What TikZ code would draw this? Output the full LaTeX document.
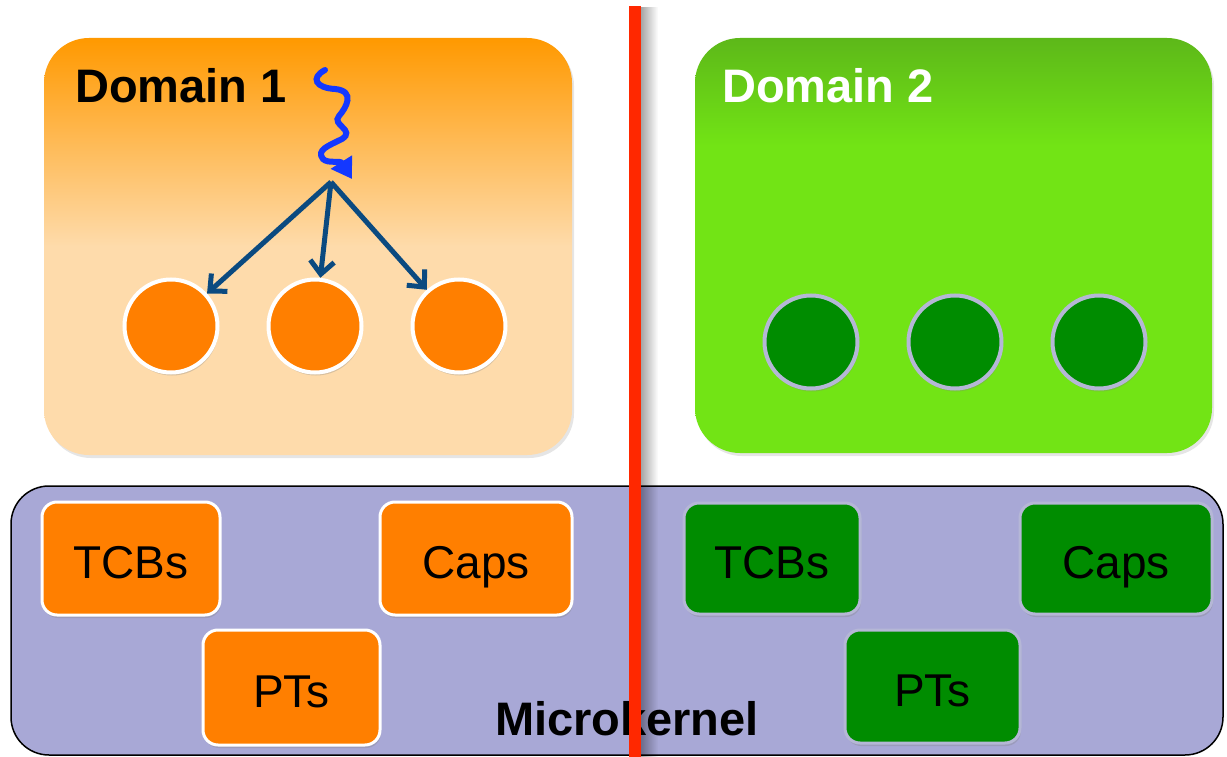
\documentclass[tikz,border=0pt]{standalone}
\usepackage{fontspec}
\setmainfont{Liberation Sans}
\usetikzlibrary{arrows.meta,shadows,fadings}
\definecolor{dorange}{HTML}{FF9900}
\definecolor{dpeach}{HTML}{FEDBAB}
\definecolor{dgreentop}{HTML}{5DB819}
\definecolor{dgreen}{HTML}{72E415}
\definecolor{korange}{HTML}{FF7F00}
\definecolor{kgreen}{HTML}{008C00}
\definecolor{kborder}{HTML}{B5B7D6}
\definecolor{mkfill}{HTML}{A8A8D6}
\definecolor{redline}{HTML}{FF2800}
\definecolor{arrowblue}{HTML}{0B4A80}
\definecolor{squigblue}{HTML}{1438FF}
\pgfdeclareverticalshading{domone}{100bp}{color(0bp)=(dpeach); color(50bp)=(dpeach); color(75bp)=(dorange); color(100bp)=(dorange)}
\pgfdeclareverticalshading{domtwo}{100bp}{color(0bp)=(dgreen); color(62bp)=(dgreen); color(75bp)=(dgreentop); color(100bp)=(dgreentop)}
\begin{document}
\begin{tikzpicture}[x=1pt,y=-1pt,
  domainbox/.style={rectangle, rounded corners=45pt, inner sep=0pt, draw=none,
    drop shadow={shadow xshift=2pt, shadow yshift=-3pt, opacity=0.2}},
  kbox/.style={rectangle, rounded corners=15pt, inner sep=0pt, line width=3pt,
    font=\fontsize{46}{50}\selectfont, text height=39pt, text depth=0pt,
    drop shadow={shadow xshift=1pt, shadow yshift=-3pt, opacity=0.3}},
  obox/.style={kbox, fill=korange, draw=white},
  gbox/.style={kbox, fill=kgreen, draw=kborder},
  thread/.style={circle, minimum size=93pt, inner sep=0pt, line width=4pt,
    drop shadow={shadow xshift=1pt, shadow yshift=-3pt, opacity=0.3}},
  othread/.style={thread, fill=korange, draw=white},
  gthread/.style={thread, fill=kgreen, draw=kborder},
  title/.style={font=\fontsize{47}{50}\selectfont\bfseries, inner sep=0pt},
  fan/.style={draw=arrowblue, line width=5pt, -{Straight Barb[length=13pt,width=24pt,line width=5pt]}},
  squig/.style={draw=squigblue, line width=6pt, line cap=round, -{Triangle[length=20pt,width=24pt]}},
  sep/.style={draw=redline, line width=12pt}
]
\useasboundingbox (0,0) rectangle (1227,757);
\fill[white] (0,0) rectangle (1227,757);

% domains
\node[domainbox, shading=domone, minimum width=528pt, minimum height=417pt] (d1) at (308,246.5) {};
\node[domainbox, shading=domtwo, minimum width=517pt, minimum height=415pt] (d2) at (953.5,245.5) {};
\node[title, anchor=base west] (d1t) at (75,103) {Domain 1};
\node[title, anchor=base west, text=white] (d2t) at (722,103) {Domain 2};

% threads
\node[othread] (o1) at (171,326) {};
\node[othread] (o2) at (315,326) {};
\node[othread] (o3) at (459,326) {};
\node[gthread] (g1) at (811,342) {};
\node[gthread] (g2) at (955,342) {};
\node[gthread] (g3) at (1099,342) {};

% fan-out arrows
\coordinate (src) at (331,182);
\draw[fan] (src) -- (o1);
\draw[fan] (src) -- (o2);
\draw[fan] (src) -- (o3);

% squiggle
\coordinate (sq) at (325,70);
\coordinate (sqend) at (352,179);
\draw[squig] (sq) .. controls (310,78) and (316,88) .. (335,89)
  .. controls (356,91) and (346,108) .. (339,116)
  .. controls (331,125) and (356,130) .. (342,139)
  .. controls (328,146) and (316,150) .. (323,159)
  .. controls (328,164) and (340,160) .. (sqend);

% microkernel
\node[rectangle, rounded corners=38pt, fill=mkfill, draw=black, line width=1.5pt,
  minimum width=1212pt, minimum height=269pt, inner sep=0pt] (mk) at (617,620.5) {};
\node[obox, minimum width=178pt, minimum height=113pt] (otcb) at (131,558.5) {TCBs};
\node[obox, minimum width=192pt, minimum height=113pt] (ocap) at (476,558.5) {Caps};
\node[obox, minimum width=177pt, minimum height=115pt] (opt) at (291.5,687.5) {PTs};
\node[gbox, minimum width=176pt, minimum height=111pt] (gtcb) at (772,558.5) {TCBs};
\node[gbox, minimum width=192pt, minimum height=111pt] (gcap) at (1116,558.5) {Caps};
\node[gbox, minimum width=175pt, minimum height=113pt] (gpt) at (932.5,686.5) {PTs};
\node[title, anchor=base] (mkt) at (627,735) {Microkernel};

% separator
\fill[black, opacity=0.35, path fading=east] (641,6) rectangle (658,757);
\coordinate (rtop) at (635,6);
\coordinate (rbot) at (635,757);
\draw[sep] (rtop) -- (rbot);
\end{tikzpicture}
\end{document}
